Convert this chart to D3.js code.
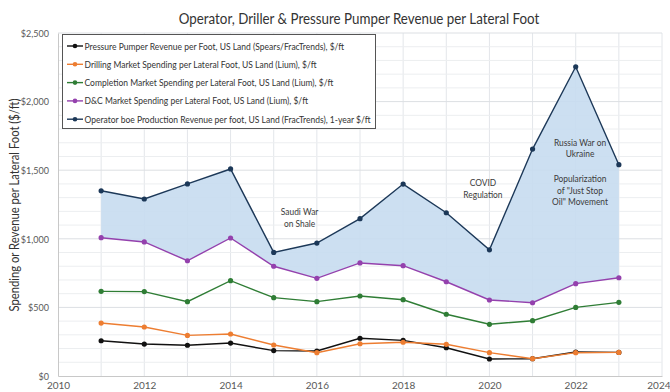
<!DOCTYPE html>
<html>
<head>
<meta charset="utf-8">
<script src="https://cdn.jsdelivr.net/npm/d3@7"></script>
<style>
  html, body { margin: 0; padding: 0; background: #fff; }
  svg { display: block; font-family: Lato, "Open Sans", sans-serif; }
</style>
</head>
<body>
<svg id="chart" width="670" height="392"></svg>
<script>
// Years covered by every series
const years = [2011, 2012, 2013, 2014, 2015, 2016, 2017, 2018, 2019, 2020, 2021, 2022, 2023];

// $/ft values per year
const pressurePumper = [257, 233, 224, 240, 185, 182, 275, 260, 206, 124, 126, 175, 172];
const drilling       = [386, 357, 296, 306, 226, 170, 235, 246, 231, 170, 126, 170, 172];
const completion     = [617, 615, 542, 695, 571, 542, 583, 556, 450, 377, 403, 500, 537];
const dnc            = [1008, 977, 840, 1006, 800, 712, 824, 804, 687, 554, 534, 673, 716];
const operator       = [1350, 1290, 1400, 1509, 901, 969, 1147, 1399, 1190, 920, 1654, 2254, 1540];

const seriesNames = [
  "Pressure Pumper Revenue per Foot, US Land (Spears/FracTrends), $/ft",
  "Drilling Market Spending per Lateral Foot, US Land (Lium), $/ft",
  "Completion Market Spending per Lateral Foot, US Land (Lium), $/ft",
  "D&C Market Spending per Lateral Foot, US Land (Lium), $/ft",
  "Operator boe Production Revenue per foot, US Land (FracTrends), 1-year $/ft"
];
const seriesColors = ["#111111", "#ed7d31", "#2f7d35", "#9441ad", "#1c3858"];
const seriesValues = [pressurePumper, drilling, completion, dnc, operator];

// Axis ticks
const xTicks = [2010, 2012, 2014, 2016, 2018, 2020, 2022, 2024];
const yTicks = [0, 500, 1000, 1500, 2000, 2500];

// Event notes, placed at (year, $/ft)
const notes = [
  { lines: ["Saudi War", "on Shale"], year: 2015.6, value: 1175 },
  { lines: ["COVID", "Regulation"], year: 2019.85, value: 1385 },
  { lines: ["Russia War on", "Ukraine"], year: 2022.1, value: 1680 },
  { lines: ["Popularization", "of \"Just Stop", "Oil\" Movement"], year: 2022.1, value: 1415 }
];

const svg = d3.select("#chart");
const margin = { left: 58, right: 8, top: 33, bottom: 16 };
const W = 670, H = 392;

const x = d3.scaleLinear().domain([2010, 2024]).range([margin.left, W - margin.right]);
const y = d3.scaleLinear().domain([0, 2500]).range([H - margin.bottom, margin.top]);

// Squeeze a text element horizontally by a factor, keeping its anchor
function squeeze(sel, k) {
  sel.each(function () {
    const w = this.getComputedTextLength();
    d3.select(this).attr("textLength", w * k).attr("lengthAdjust", "spacingAndGlyphs");
  });
}

// Gridlines: every year, every $100
const grid = svg.append("g");
grid.selectAll("line.v").data(d3.range(2011, 2025)).join("line")
  .attr("x1", d => x(d)).attr("x2", d => x(d))
  .attr("y1", y(0)).attr("y2", y(2500))
  .attr("stroke", "#e3e6ea").attr("stroke-width", 1);
grid.selectAll("line.h").data(d3.range(100, 2600, 100)).join("line")
  .attr("x1", x(2010)).attr("x2", x(2024))
  .attr("y1", d => y(d)).attr("y2", d => y(d))
  .attr("stroke", d => d % 500 === 0 ? "#dcdfe3" : "#eceef0").attr("stroke-width", 1);

// Axes
const xAxis = svg.append("g").attr("transform", `translate(0,${y(0)})`)
  .call(d3.axisBottom(x).tickValues(xTicks).tickFormat(d3.format("d")).tickSize(0).tickPadding(6));
const yAxis = svg.append("g").attr("transform", `translate(${x(2010)},0)`)
  .call(d3.axisLeft(y).tickValues(yTicks).tickFormat(d => "$" + d3.format(",")(d)).tickSize(0).tickPadding(9));
[xAxis, yAxis].forEach(a => {
  a.select(".domain").attr("stroke", "#c8c8c8");
  a.selectAll("text").attr("fill", "#595959").attr("font-size", 10).attr("font-family", "Lato, sans-serif");
});
yAxis.selectAll("text").call(squeeze, 0.9);
// keep the last year label inside the page edge
xAxis.selectAll(".tick").filter(d => d === 2024).select("text").attr("text-anchor", "end").attr("dx", 8);

// Shaded gap between operator revenue and D&C spending
const band = d3.area()
  .x((d, i) => x(years[i]))
  .y0((d, i) => y(dnc[i]))
  .y1((d, i) => y(operator[i]));
svg.append("path").datum(years).attr("d", band).attr("fill", "#c6dbf0").attr("fill-opacity", 0.9);

// Lines and markers
const line = d3.line().x((d, i) => x(years[i])).y(d => y(d));
seriesValues.forEach((vals, k) => {
  svg.append("path").datum(vals).attr("d", line)
    .attr("fill", "none").attr("stroke", seriesColors[k]).attr("stroke-width", 1.4);
  svg.append("g").selectAll("circle").data(vals).join("circle")
    .attr("cx", (d, i) => x(years[i])).attr("cy", d => y(d)).attr("r", 2.6)
    .attr("fill", seriesColors[k]);
});

// Notes
notes.forEach(n => {
  n.lines.forEach((s, i) => {
    svg.append("text").attr("x", x(n.year)).attr("y", y(n.value) + i * 11.8)
      .attr("text-anchor", "middle").attr("font-size", 10).attr("fill", "#3b3b3b")
      .text(s).call(squeeze, 0.84);
  });
});

// Legend
const lg = svg.append("g");
lg.append("rect").attr("x", 62.5).attr("y", 34.5).attr("width", 313).attr("height", 94)
  .attr("fill", "#fff").attr("stroke", "#555").attr("stroke-width", 1);
seriesNames.forEach((name, k) => {
  const cy = 46 + k * 18.3;
  lg.append("line").attr("x1", 67).attr("x2", 83).attr("y1", cy).attr("y2", cy)
    .attr("stroke", seriesColors[k]).attr("stroke-width", 1.4);
  lg.append("circle").attr("cx", 75).attr("cy", cy).attr("r", 2.3).attr("fill", seriesColors[k]);
  lg.append("text").attr("x", 84.5).attr("y", cy + 3.5).attr("font-size", 10.2).attr("fill", "#333")
    .text(name).call(squeeze, 0.835);
});

// Title
svg.append("text").attr("x", 359).attr("y", 24).attr("text-anchor", "middle")
  .attr("font-size", 14.5).attr("fill", "#333")
  .text("Operator, Driller & Pressure Pumper Revenue per Lateral Foot").call(squeeze, 0.92);

// Y-axis title
svg.append("text").attr("transform", `translate(19,205) rotate(-90)`).attr("text-anchor", "middle")
  .attr("font-size", 12.5).attr("fill", "#333")
  .text("Spending or Revenue per Lateral Foot ($/ft)").call(squeeze, 0.9);
</script>
</body>
</html>
